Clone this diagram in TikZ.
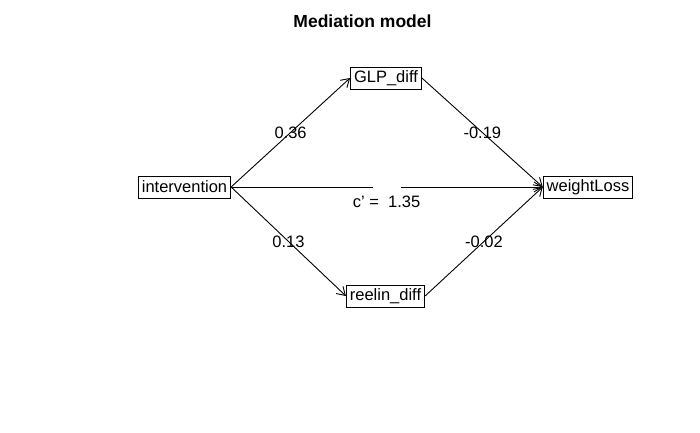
\documentclass[tikz,border=0pt]{standalone}
\usepackage{fontspec}
\setmainfont{Liberation Sans}
\usetikzlibrary{arrows.meta}

\begin{document}
\begin{tikzpicture}[x = 1pt, y = -1pt, line width = 0.9pt,
  var/.style = {draw, fill = white, font = \fontsize{16.5}{19}\selectfont, inner xsep = 3.5pt, inner ysep = 0pt, minimum height = 22pt},
  path/.style = {-{Straight Barb[length = 8pt, width = 10pt, line width = 0.9pt]}},
  coef/.style = {font = \fontsize{16.5}{19}\selectfont, inner sep = 0pt}]
  \useasboundingbox (0, 0) rectangle (700, 432);
  \node[font = \fontsize{17.5}{21}\selectfont\bfseries] (title) at (362.5, 21) {Mediation model};

  \node[var] (int) at (184.5, 187) {intervention};
  \node[var] (glp) at (386, 78) {GLP\_diff};
  \node[var] (ree) at (385.5, 296) {reelin\_diff};
  \node[var] (wl) at (588, 187) {weightLoss};

  \draw[path] (int.east) -- (glp.west) node[coef, midway] {0.36};
  \draw[path] (glp.east) -- (wl.west) node[coef, midway] {-0.19};
  \draw[path] (int.east) -- (ree.west) node[coef, midway] {0.13};
  \draw[path] (ree.east) -- (wl.west) node[coef, midway] {-0.02};

  % direct path, broken where its label sits
  \coordinate (gapL) at (373, 187);
  \coordinate (gapR) at (401, 187);
  \draw (int.east) -- (gapL);
  \draw[path] (gapR) -- (wl.west);
  \node[coef] (direct) at (386.5, 202) {c' = \ 1.35};
\end{tikzpicture}
\end{document}
